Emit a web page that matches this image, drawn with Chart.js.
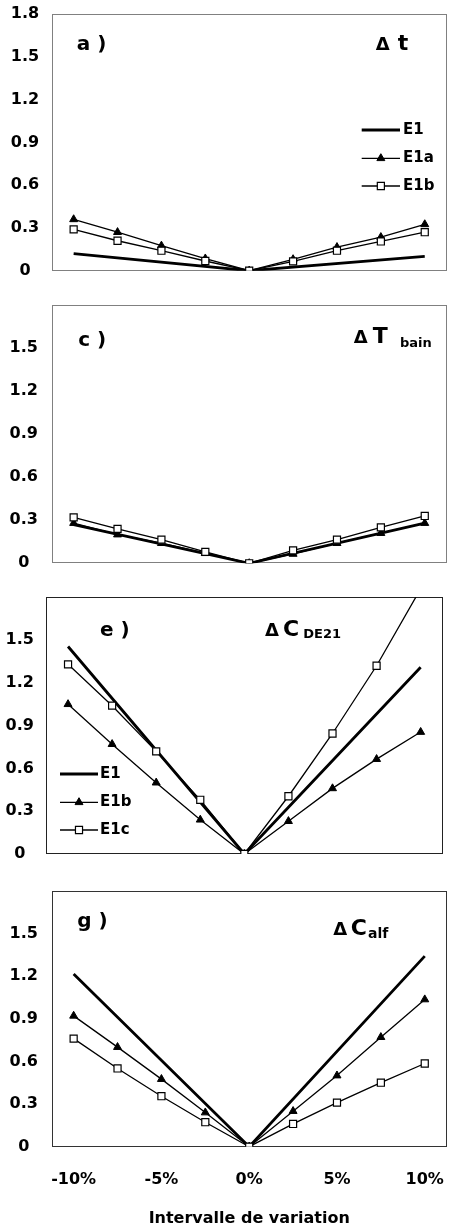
<!DOCTYPE html>
<html>
<head>
<meta charset="utf-8">
<script src="https://cdn.jsdelivr.net/npm/chart.js@4.4.1/dist/chart.umd.min.js"></script>
<style>
  body { margin: 0; background: #fff; width: 449px; height: 1232px; position: relative; overflow: hidden; }
  .panel { position: absolute; left: 0; width: 449px; }
</style>
</head>
<body>
<div class="panel" style="top:0;height:290px"><canvas id="chartA"></canvas></div>
<div class="panel" style="top:290px;height:290px"><canvas id="chartC"></canvas></div>
<div class="panel" style="top:580px;height:290px"><canvas id="chartE"></canvas></div>
<div class="panel" style="top:870px;height:362px"><canvas id="chartG"></canvas></div>
<script>
// categories (variation interval) and y ticks
const xLabels = ['-10%', '-7.5%', '-5%', '-2.5%', '0%', '2.5%', '5%', '7.5%', '10%'];
const yMax = 1.8;
const yStep = 0.3;

// a) delta t
const dtE1  = [0.12, null, null, null, 0, null, null, null, 0.10];
const dtE1a = [0.36, 0.27, 0.175, 0.085, 0, 0.08, 0.165, 0.235, 0.325];
const dtE1b = [0.29, 0.21, 0.14, 0.068, 0, 0.065, 0.14, 0.205, 0.27];

// c) delta T bain
const dTbE1  = [0.27, null, null, null, 0, null, null, null, 0.28];
const dTbE1a = [0.28, 0.20, 0.14, 0.07, 0, 0.065, 0.14, 0.21, 0.28];
const dTbE1b = [0.32, 0.24, 0.165, 0.08, 0, 0.09, 0.165, 0.25, 0.33];

// e) delta C DE21
const dCdeE1  = [1.455, null, null, null, 0, null, null, null, 1.31];
const dCdeE1b = [1.05, 0.77, 0.50, 0.24, 0, 0.23, 0.46, 0.665, 0.855];
const dCdeE1c = [1.33, 1.04, 0.72, 0.38, 0, 0.405, 0.845, 1.32, 1.86];

// g) delta C alf
const dCalfE1  = [1.215, null, null, null, 0, null, null, null, 1.34];
const dCalfE1b = [0.92, 0.70, 0.475, 0.24, 0, 0.25, 0.50, 0.77, 1.035];
const dCalfE1c = [0.76, 0.55, 0.355, 0.172, 0, 0.16, 0.31, 0.45, 0.585];

Chart.defaults.font.family = 'DejaVu Sans';
Chart.defaults.font.weight = 'bold';
Chart.defaults.font.size = 16;
Chart.defaults.color = '#000';

const FONT = 'DejaVu Sans';

// line styles: plain thick line, filled triangles, open squares
const styles = {
  plain: { borderWidth: 2.8, pointRadius: 0 },
  tri: { borderWidth: 1.3, pointStyle: 'triangle', pointRadius: 4.6, pointBackgroundColor: '#000', pointBorderColor: '#000', pointBorderWidth: 1 },
  sq: { borderWidth: 1.3, pointStyle: 'rect', pointRadius: 5, pointBackgroundColor: '#fff', pointBorderColor: '#000', pointBorderWidth: 1.2 }
};

function makeDataset(s, i, all) {
  return Object.assign({
    label: s.label,
    data: s.data,
    borderColor: '#000',
    backgroundColor: '#000',
    fill: false,
    tension: 0,
    spanGaps: true,
    order: all.length - i
  }, styles[s.style]);
}

function panelDecor(opts) {
  return {
    id: 'decor',
    beforeDatasetsDraw(chart) {
      const { ctx, chartArea: a } = chart;
      ctx.save();
      ctx.strokeStyle = opts.boxColor;
      ctx.lineWidth = 1;
      ctx.strokeRect(Math.round(a.left) + 0.5, Math.round(a.top) + 0.5, Math.round(a.width) - 1, Math.round(a.height) - 1);
      ctx.restore();
    },
    afterDraw(chart) {
      const { ctx, chartArea: a } = chart;
      ctx.save();
      ctx.fillStyle = '#000';
      ctx.textBaseline = 'alphabetic';
      ctx.textAlign = 'left';
      opts.texts.forEach(t => {
        ctx.font = 'bold ' + t.size + 'px "' + FONT + '"';
        ctx.fillText(t.text, a.left + t.dx, a.top + t.dy);
      });
      // legend inside the plot
      if (opts.legend) {
        const lg = opts.legend;
        chart.data.datasets.forEach((ds, i) => {
          const y = a.top + lg.rows[i];
          ctx.strokeStyle = '#000';
          ctx.lineWidth = ds.borderWidth;
          ctx.beginPath();
          ctx.moveTo(a.left + lg.x0, y);
          ctx.lineTo(a.left + lg.x1, y);
          ctx.stroke();
          if (ds.pointRadius > 0) {
            ctx.fillStyle = ds.pointBackgroundColor;
            ctx.strokeStyle = ds.pointBorderColor;
            ctx.lineWidth = ds.pointBorderWidth;
            Chart.helpers.drawPoint(ctx, { pointStyle: ds.pointStyle, radius: ds.pointRadius, rotation: 0, borderWidth: ds.pointBorderWidth }, a.left + (lg.x0 + lg.x1) / 2, y);
          }
          ctx.fillStyle = '#000';
          ctx.font = 'bold 15px "' + FONT + '"';
          ctx.textBaseline = 'middle';
          ctx.fillText(ds.label, a.left + lg.tx, y);
          ctx.textBaseline = 'alphabetic';
        });
      }
      ctx.restore();
    }
  };
}

function buildChart(id, opts) {
  const ctx = document.getElementById(id).getContext('2d');
  return new Chart(ctx, {
    type: 'line',
    data: {
      labels: xLabels,
      datasets: opts.series.map(makeDataset)
    },
    options: {
      responsive: true,
      maintainAspectRatio: false,
      animation: false,
      layout: { padding: opts.padding, autoPadding: false },
      plugins: { legend: { display: false }, tooltip: { enabled: false } },
      scales: {
        x: {
          display: !!opts.showX,
          offset: true,
          // tick marks are not drawn (grid hidden); tickLength only spaces the labels
          grid: { display: false, drawTicks: true, tickLength: 24 },
          border: { display: false },
          ticks: {
            padding: 0,
            maxRotation: 0,
            autoSkip: false,
            callback: (v, i) => (i % 2 === 0 ? xLabels[i] : '')
          },
          title: {
            display: !!opts.showX,
            text: 'Intervalle de variation',
            padding: { top: 0, bottom: 4 }
          },
          afterFit: s => { if (opts.xHeight) s.height = opts.xHeight; }
        },
        y: {
          min: 0,
          max: yMax,
          grid: { display: false, drawTicks: true, tickLength: opts.tickPad },
          border: { display: false },
          ticks: {
            stepSize: yStep,
            padding: 0,
            crossAlign: 'center',
            callback: v => {
              if (v > yMax - 0.01 && !opts.showTop) return '';
              return Math.abs(v) < 1e-9 ? '0' : v.toFixed(1);
            }
          },
          afterFit: s => { s.width = opts.yWidth; }
        }
      }
    },
    plugins: [panelDecor(opts)]
  });
}

// a)
buildChart('chartA', {
  series: [
    { label: 'E1', data: dtE1, style: 'plain' },
    { label: 'E1a', data: dtE1a, style: 'tri' },
    { label: 'E1b', data: dtE1b, style: 'sq' }
  ],
  padding: { top: 14, right: 2.3, bottom: 19.3, left: 0 },
  yWidth: 51.7, tickPad: 12.5, showTop: true, boxColor: '#808080',
  texts: [
    { text: 'a )', size: 20, dx: 25, dy: 36 },
    { text: 'Δ', size: 18, dx: 324, dy: 36 },
    { text: 't', size: 22, dx: 346, dy: 36 }
  ],
  legend: { rows: [116, 144.3, 172], x0: 310, x1: 348.3, tx: 351.3 }
});

// c)
buildChart('chartC', {
  series: [
    { label: 'E1', data: dTbE1, style: 'plain' },
    { label: 'E1a', data: dTbE1a, style: 'tri' },
    { label: 'E1b', data: dTbE1b, style: 'sq' }
  ],
  padding: { top: 15, right: 2.3, bottom: 16.7, left: 0 },
  yWidth: 51.7, tickPad: 13.8, showTop: false, boxColor: '#808080',
  texts: [
    { text: 'c )', size: 20, dx: 26.6, dy: 41 },
    { text: 'Δ', size: 18, dx: 302, dy: 38.3 },
    { text: 'T', size: 22, dx: 321, dy: 38.3 },
    { text: 'bain', size: 13, dx: 348.3, dy: 41.7 }
  ]
});

// e)
buildChart('chartE', {
  series: [
    { label: 'E1', data: dCdeE1, style: 'plain' },
    { label: 'E1b', data: dCdeE1b, style: 'tri' },
    { label: 'E1c', data: dCdeE1c, style: 'sq' }
  ],
  padding: { top: 17.3, right: 6.3, bottom: 16, left: 0 },
  yWidth: 46, tickPad: 12.1, showTop: false, boxColor: '#222',
  texts: [
    { text: 'e )', size: 20, dx: 54, dy: 38.7 },
    { text: 'Δ', size: 18, dx: 219, dy: 38.7 },
    { text: 'C', size: 22, dx: 237, dy: 38.7 },
    { text: 'DE21', size: 13, dx: 257.3, dy: 41 }
  ],
  legend: { rows: [176.7, 205, 232.7], x0: 14, x1: 52, tx: 54 }
});

// g)
buildChart('chartG', {
  series: [
    { label: 'E1', data: dCalfE1, style: 'plain' },
    { label: 'E1b', data: dCalfE1b, style: 'tri' },
    { label: 'E1c', data: dCalfE1c, style: 'sq' }
  ],
  padding: { top: 20.7, right: 2.3, bottom: 0, left: 0 },
  yWidth: 51.7, tickPad: 13.8, showTop: false, boxColor: '#333',
  showX: true, xHeight: 85.3,
  texts: [
    { text: 'g )', size: 20, dx: 25.6, dy: 36 },
    { text: 'Δ', size: 18, dx: 281.6, dy: 44.3 },
    { text: 'C', size: 22, dx: 299, dy: 44.3 },
    { text: 'alf', size: 14, dx: 316.3, dy: 47.6 }
  ]
});
</script>
</body>
</html>
